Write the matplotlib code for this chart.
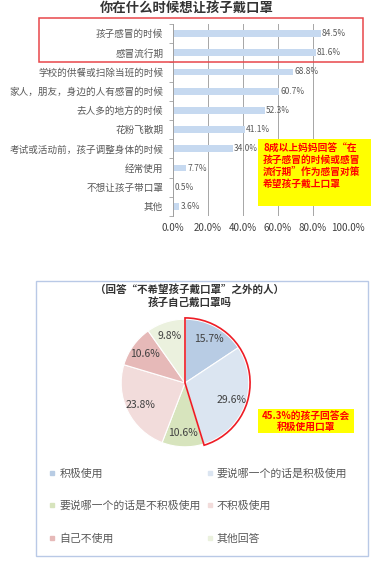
import numpy as np
import matplotlib.pyplot as plt
from matplotlib.patches import Rectangle, Wedge
from matplotlib.lines import Line2D

plt.rcParams['font.family'] = ['Noto Sans CJK SC', 'DejaVu Sans']

# 柱状图数据
bar_titulo = "你在什么时候想让孩子戴口罩"
bar_cats = ["孩子感冒的时候", "感冒流行期", "学校的供餐或扫除当班的时候",
            "家人，朋友，身边的人有感冒的时候", "去人多的地方的时候", "花粉飞散期",
            "考试或活动前，孩子调整身体的时候", "经常使用", "不想让孩子带口罩", "其他"]
bar_vals = [84.5, 81.6, 68.8, 60.7, 52.3, 41.1, 34.0, 7.7, 0.5, 3.6]
bar_ticks = [0, 20, 40, 60, 80, 100]
bar_nota = "8成以上妈妈回答“在\n孩子感冒的时候或感冒\n流行期”作为感冒对策\n希望孩子戴上口罩"

# 饼图数据
pie_titulo = "（回答“不希望孩子戴口罩”之外的人）\n孩子自己戴口罩吗"
pie_cats = ["积极使用", "要说哪一个的话是积极使用", "要说哪一个的话是不积极使用",
            "不积极使用", "自己不使用", "其他回答"]
pie_vals = [15.7, 29.6, 10.6, 23.8, 10.6, 9.8]
pie_cores = ['#b8cce4', '#dbe5f1', '#d7e4bd', '#f2dcdb', '#e6b9b8', '#ebf1de']
pie_nota = "45.3%的孩子回答会\n积极使用口罩"

W, H = 382, 561
fig = plt.figure(figsize=(W / 100, H / 100), dpi=100)

def px(x0, y0, x1, y1):
    # 像素坐标 -> figure 坐标
    return [x0 / W, 1 - y1 / H, (x1 - x0) / W, (y1 - y0) / H]

cinza = '#595959'

# ---- 柱状图 ----
ax = fig.add_axes(px(173, 24, 348, 216))
y = np.arange(len(bar_cats))
ax.barh(y, bar_vals, height=0.36, color='#c6d9f0', zorder=2)
for yi, v in zip(y, bar_vals):
    ax.text(v + 0.6, yi, f"{v:.1f}%", va='center', ha='left', fontsize=6, color=cinza)
ax.set_xlim(0, 100)
ax.set_ylim(len(bar_cats) - 0.5, -0.5)
ax.set_xticks(bar_ticks)
ax.set_xticklabels([f"{t:.1f}%" for t in bar_ticks], fontsize=7, color='#404040')
ax.set_yticks(y)
ax.set_yticklabels(bar_cats, fontsize=6.9, color=cinza)
ax.set_yticks(np.arange(len(bar_cats) + 1) - 0.5, minor=True)
ax.tick_params(axis='y', which='major', length=0, pad=7)
ax.tick_params(axis='y', which='minor', length=3, color='#a0a0a0', width=0.6)
ax.tick_params(axis='x', length=0, pad=5)
ax.grid(axis='x', color='#a6a6a6', lw=0.7, zorder=0)
for s in ['top', 'right', 'bottom']:
    ax.spines[s].set_visible(False)
ax.spines['left'].set_color('#a0a0a0')
ax.spines['left'].set_linewidth(0.7)

fig.text(187 / W, 1 - 9 / H, bar_titulo, ha='center', va='center',
         fontsize=9.6, fontweight='bold', color='#333333')
fig.patches.append(Rectangle((39 / W, 1 - 62 / H), 324 / W, 44 / H, transform=fig.transFigure,
                             fill=False, edgecolor='#e8474a', lw=1.1))
fig.patches.append(Rectangle((258 / W, 1 - 206 / H), 113 / W, 67 / H, transform=fig.transFigure,
                             facecolor='#ffff00', edgecolor='none', zorder=3))
fig.text(263 / W, 1 - 143 / H, bar_nota, ha='left', va='top', fontsize=7,
         fontweight='bold', color='#ff0000', linespacing=1.25, zorder=4)

# ---- 饼图 ----
fig.patches.append(Rectangle((36 / W, 1 - 556 / H), 332 / W, 275 / H, transform=fig.transFigure,
                             fill=False, edgecolor='#b9c9e6', lw=1))
fig.text(190 / W, 1 - 296 / H, pie_titulo, ha='center', va='center', fontsize=7.6,
         fontweight='bold', color='#333333', linespacing=1.25)

r = 67
axp = fig.add_axes(px(185 - r, 383 - r, 185 + r, 383 + r))
wedges, _, autotexts = axp.pie(pie_vals, colors=pie_cores, startangle=90, counterclock=False,
                               autopct=lambda p: f"{p:.1f}%", pctdistance=0.78,
                               wedgeprops=dict(edgecolor='white', linewidth=0.8),
                               textprops=dict(fontsize=7.5, color='#404040'))
axp.set_xlim(-1.05, 1.05)
axp.set_ylim(-1.05, 1.05)
ang = (pie_vals[0] + pie_vals[1]) / sum(pie_vals) * 360
axp.add_patch(Wedge((0, 0), 1.02, 90 - ang, 90, fill=False, edgecolor='#ee1c25', lw=1.2, zorder=5))

fig.patches.append(Rectangle((258 / W, 1 - 433 / H), 96 / W, 24 / H, transform=fig.transFigure,
                             facecolor='#ffff00', edgecolor='none', zorder=3))
fig.text(306 / W, 1 - 421 / H, pie_nota, ha='center', va='center', fontsize=7,
         fontweight='bold', color='#ff0000', linespacing=1.1, zorder=4)

# 图例（按行排列）
ordem = [0, 2, 4, 1, 3, 5]
handles = [Line2D([], [], marker='s', ls='none', color=pie_cores[i], markersize=3.5) for i in ordem]
fig.legend(handles, [pie_cats[i] for i in ordem], ncol=2, loc='upper left',
           bbox_to_anchor=(44 / W, 1 - 463 / H), frameon=False, fontsize=7.8,
           labelcolor=cinza, handlelength=0.5, handletextpad=0.4,
           labelspacing=2.05, columnspacing=0.6, borderpad=0)

fig.savefig('out.png', dpi=100)
